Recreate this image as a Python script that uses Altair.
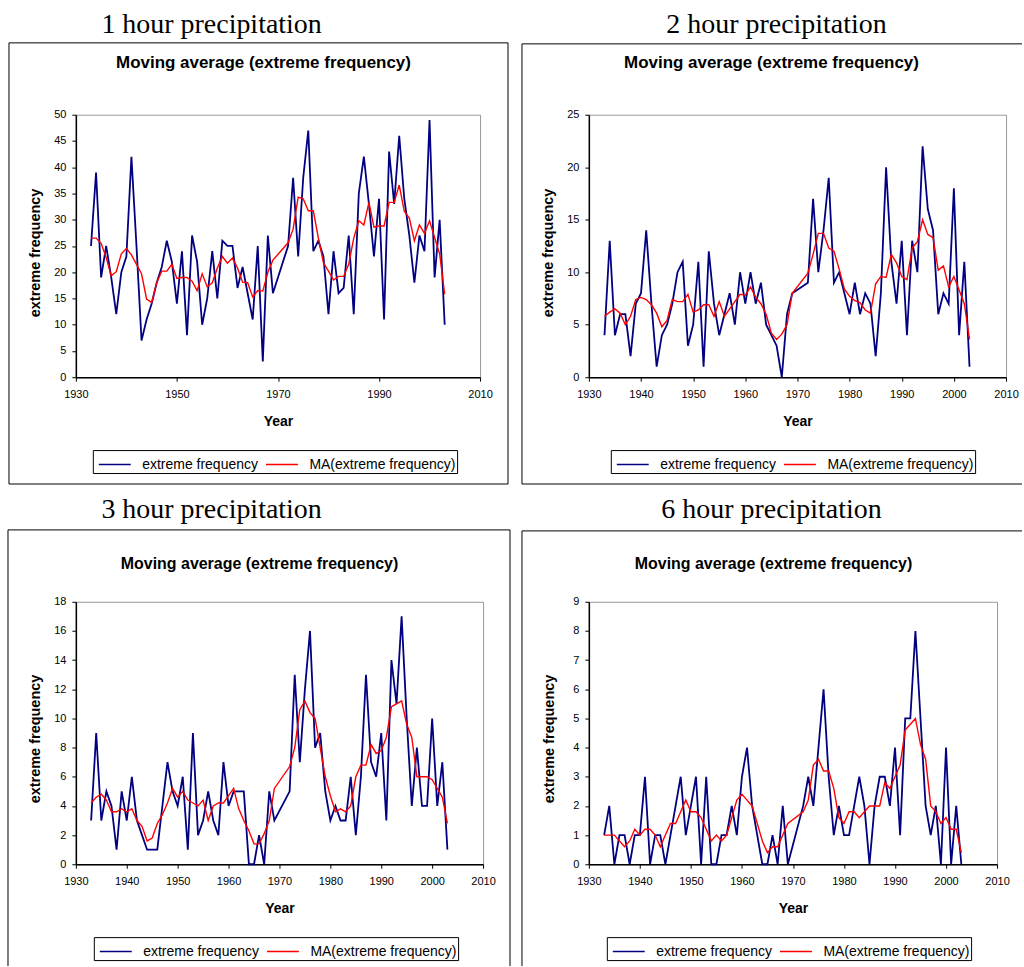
import altair as alt
import pandas as pd

# Station years (1970 and 1971 are not in the record)
YEARS = list(range(1933, 1970)) + list(range(1972, 2004))

SERIES = ["extreme frequency", "MA(extreme frequency)"]
COLORS = ["#000080", "#ff0000"]
HEADINGS = ["1 hour precipitation", "2 hour precipitation",
            "3 hour precipitation", "6 hour precipitation"]
TITLE = "Moving average (extreme frequency)"

# 1 hour
FREQ_1H = [25, 39, 19, 25, 19, 12, 20, 23, 42, 25,
           7, 11, 14, 18, 21, 26, 22, 14, 24, 8,
           27, 22, 10, 15, 24, 15, 26, 25, 25, 17,
           21, 16, 11, 25, 3, 27, 16,
           25, 38, 23, 38, 47, 24, 26, 23, 12, 24,
           16, 17, 27, 12, 35, 42, 33, 23, 34, 11,
           43, 33, 46, 34, 27, 18, 27, 24, 49, 19,
           30, 10]
MA_1H = [26.5, 26.5, 25.5, 22.8, 19.3, 20.1, 23.5, 24.5, 23.3, 21.5,
         19.7, 14.9, 14.2, 18.0, 20.2, 20.2, 21.5, 18.8, 19.0, 19.0,
         18.3, 16.5, 19.7, 17.2, 18.0, 20.8, 23.0, 21.7, 22.7, 20.8,
         18.1, 18.0, 15.3, 16.5, 16.4, 20.0, 22.3,
         25.6, 28.2, 34.3, 34.0, 31.7, 31.7, 26.5, 21.8, 20.2, 18.5,
         19.2, 19.2, 21.5, 26.5, 29.8, 29.0, 33.3, 28.6, 28.8, 28.8,
         33.3, 33.3, 36.6, 31.6, 30.3, 26.0, 29.0, 27.4, 29.8, 26.6,
         23.5, 15.8]

# 2 hour
FREQ_2H = [4, 13, 4, 6, 6, 2, 7, 8, 14, 7,
           1, 4, 5, 7, 10, 11, 3, 5, 11, 1,
           12, 7, 4, 6, 8, 5, 10, 7, 10, 7,
           9, 5, 4, 3, 0, 6, 8,
           9, 17, 10, 14, 19, 9, 10, 8, 6, 9,
           6, 8, 7, 2, 8, 20, 11, 7, 13, 4,
           13, 10, 22, 16, 14, 6, 8, 7, 18, 4,
           11, 1]
MA_2H = [5.8, 6.2, 6.5, 6.1, 5.0, 5.8, 7.4, 7.6, 7.4, 6.9,
         6.1, 4.8, 5.4, 7.4, 7.2, 7.2, 7.9, 6.2, 6.4, 6.9,
         6.9, 5.8, 7.2, 5.8, 6.5, 7.2, 7.9, 7.8, 8.6, 7.6,
         7.0, 6.0, 4.2, 3.6, 4.1, 5.0, 8.0,
         9.9, 11.7, 13.7, 13.7, 12.3, 12.0, 10.3, 8.4, 7.7, 7.3,
         7.1, 6.4, 6.1, 8.9, 9.6, 9.5, 11.7, 10.9, 9.6, 9.3,
         12.3, 12.9, 15.0, 13.6, 13.3, 10.2, 10.6, 8.6, 9.6, 8.3,
         7.0, 3.6]

# 3 hour
FREQ_3H = [3, 9, 3, 5, 4, 1, 5, 3, 6, 3,
           2, 1, 1, 1, 4, 7, 5, 4, 6, 1,
           9, 2, 3, 5, 3, 2, 7, 4, 5, 5,
           5, 0, 0, 2, 0, 5, 3,
           5, 13, 7, 12, 16, 8, 9, 5, 3, 4,
           3, 3, 6, 2, 6, 13, 7, 6, 9, 3,
           14, 11, 17, 10, 4, 8, 4, 4, 10, 4,
           7, 1]
MA_3H = [4.2, 4.6, 4.8, 4.4, 3.6, 3.6, 3.8, 3.6, 3.8, 3.0,
         2.6, 1.6, 1.8, 2.8, 3.4, 4.2, 5.2, 4.6, 5.0, 4.4,
         4.2, 4.0, 4.4, 3.0, 4.0, 4.2, 4.2, 4.7, 5.2, 3.8,
         3.0, 2.3, 1.4, 1.4, 2.1, 3.0, 5.2,
         6.7, 8.0, 10.6, 11.2, 10.4, 10.0, 8.0, 6.0, 4.7, 3.6,
         3.8, 3.6, 4.0, 6.0, 6.8, 6.8, 8.2, 7.6, 7.8, 8.7,
         10.8, 11.0, 11.2, 9.6, 8.7, 6.0, 6.0, 6.0, 5.8, 5.2,
         4.6, 2.8]

# 6 hour
FREQ_6H = [1, 2, 0, 1, 1, 0, 1, 1, 3, 0,
           1, 1, 0, 1, 2, 3, 1, 2, 3, 0,
           3, 0, 0, 1, 1, 2, 1, 3, 4, 2,
           1, 0, 0, 1, 0, 2, 0,
           2, 3, 2, 4, 6, 3, 1, 2, 1, 1,
           2, 3, 2, 0, 2, 3, 3, 2, 4, 1,
           5, 5, 8, 5, 2, 1, 2, 0, 4, 0,
           2, 0]
MA_6H = [1.0, 1.0, 1.0, 0.8, 0.6, 0.8, 1.2, 1.0, 1.2, 1.2,
         1.0, 0.6, 1.0, 1.4, 1.4, 1.8, 2.2, 1.8, 1.8, 1.6,
         1.2, 0.8, 1.0, 0.8, 1.0, 1.6, 2.2, 2.4, 2.2, 2.0,
         1.4, 0.8, 0.4, 0.6, 0.6, 1.0, 1.4,
         1.8, 2.2, 3.4, 3.6, 3.2, 3.2, 2.6, 1.6, 1.4, 1.8,
         1.8, 1.6, 1.8, 2.0, 2.0, 2.0, 2.8, 2.6, 3.0, 3.4,
         4.6, 4.8, 5.0, 4.1, 3.6, 2.0, 1.8, 1.4, 1.6, 1.2,
         1.2, 0.4]

SANS = "Liberation Sans"
SERIF = "Liberation Serif"
PLOT_H = 263


def spot():
    """A one-row source for the decorative layers of a panel."""
    return alt.Chart(alt.Data(values=[{"k": 0}]))


def panel(freq, ma, ymax, ystep, xstep, width, heading, heading_at,
          title_at, title_size, legend_at, ytitle_at, sides, canvas=None):
    table = pd.DataFrame({
        "Year": YEARS + YEARS,
        "value": freq + ma,
        "series": [SERIES[0]] * len(freq) + [SERIES[1]] * len(ma),
    })

    x = alt.X(
        "Year:Q",
        scale=alt.Scale(domain=[1930, 2010], nice=False, zero=False),
        axis=alt.Axis(
            values=list(range(1930, 2011, xstep)), format="d", title="Year",
            titleFont=SANS, titleFontSize=14, titleFontWeight="bold",
            titleColor="black", titleY=48, titleBaseline="alphabetic",
            labelFont=SANS, labelFontSize=11, labelColor="black",
            labelPadding=7, labelFlush=False, labelOverlap=False,
            tickSize=4, tickColor="black", tickWidth=1,
            domainColor="black", domainWidth=1.5, grid=False,
        ),
    )
    y = alt.Y(
        "value:Q",
        scale=alt.Scale(domain=[0, ymax], nice=False),
        axis=alt.Axis(
            values=list(range(0, ymax + 1, ystep)), title="extreme frequency",
            titleFont=SANS, titleFontSize=14.5, titleFontWeight="bold",
            titleColor="black", titleAngle=270, titleX=ytitle_at[0],
            titleY=ytitle_at[1], titleBaseline="alphabetic", titleAlign="center",
            labelFont=SANS, labelFontSize=11, labelColor="black", labelPadding=6,
            tickSize=4, tickColor="black", tickWidth=1,
            domainColor="black", domainWidth=1.5, grid=False,
        ),
    )
    color = alt.Color(
        "series:N",
        scale=alt.Scale(domain=SERIES, range=COLORS),
        legend=alt.Legend(
            title=None, orient="none", legendX=legend_at[0], legendY=legend_at[1],
            direction="horizontal", padding=1.5, strokeColor="black",
            fillColor="white", symbolType="M-1.333,0H1.333", symbolSize=576,
            symbolStrokeWidth=1.5, symbolOffset=7.5,
            labelFont=SANS, labelFontSize=14, labelColor="black",
            labelOffset=14.5, labelLimit=400, columnPadding=3.5,
        ),
    )

    base = alt.Chart(table)
    lines = [
        base.transform_filter(alt.datum.series == name)
        .mark_line(strokeWidth=sw)
        .encode(x=x, y=y, color=color)
        for name, sw in zip(SERIES, [1.8, 1.4])
    ]

    frame = [
        spot().mark_rule(color="black", strokeWidth=1).encode(
            x=alt.value(a), y=alt.value(b), x2=alt.value(c), y2=alt.value(d))
        for a, b, c, d in sides
    ]

    head = spot().mark_text(
        font=SERIF, fontSize=28, color="black", align="center",
        baseline="alphabetic",
    ).encode(x=alt.value(heading_at[0]), y=alt.value(heading_at[1]),
             text=alt.value(heading))

    title = spot().mark_text(
        font=SANS, fontSize=title_size, fontWeight="bold", color="black",
        align="center", baseline="alphabetic",
    ).encode(x=alt.value(title_at[0]), y=alt.value(title_at[1]),
             text=alt.value(TITLE))

    layers = frame + [head, title] + lines
    if canvas is not None:
        # transparent sheet spanning the page, anchors the layout origin
        layers.insert(0, spot().mark_rect(
            fill="white", fillOpacity=0, strokeOpacity=0,
        ).encode(x=alt.value(canvas[0]), y=alt.value(canvas[1]),
                 x2=alt.value(canvas[2]), y2=alt.value(canvas[3])))

    return alt.layer(*layers).properties(width=width, height=PLOT_H)


p1 = panel(
    FREQ_1H, MA_1H, 50, 5, 20, 405, HEADINGS[0],
    heading_at=(136, -81.5), title_at=(188, -46.5), title_size=17,
    legend_at=(17, 336), ytitle_at=(-36, 138),
    sides=[(-67, -72, -67, 370), (-67, -72, 433, -72),
           (433, -72, 433, 370), (-67, 370, 433, 370)],
    canvas=(-75, -113, 949, 854),
)
p2 = panel(
    FREQ_2H, MA_2H, 25, 5, 10, 418, HEADINGS[1],
    heading_at=(188, -81.5), title_at=(183, -46.5), title_size=17,
    legend_at=(22, 336), ytitle_at=(-36, 138),
    sides=[(-67, -71, -67, 370), (-67, -71, 434, -71), (-67, 370, 434, 370)],
)
p3 = panel(
    FREQ_3H, MA_3H, 18, 2, 10, 408, HEADINGS[2],
    heading_at=(136, -84), title_at=(184, -33), title_size=16,
    legend_at=(18, 336), ytitle_at=(-36, 137),
    sides=[(-68, -72, -68, 365), (-68, -72, 435, -72), (435, -72, 435, 365)],
)
p4 = panel(
    FREQ_6H, MA_6H, 9, 1, 10, 409, HEADINGS[3],
    heading_at=(183, -84), title_at=(185, -33), title_size=16,
    legend_at=(18, 336), ytitle_at=(-35, 137),
    sides=[(-67, -71, -67, 365), (-67, -71, 434, -71)],
)

chart = (
    alt.concat(p1, p2, p3, p4, columns=2, bounds="flush", align="each",
               spacing={"row": 225, "column": 106})
    .resolve_scale(color="independent")
    .resolve_legend(color="independent")
    .properties(padding=0, background="white")
    .configure_view(stroke="#9a9a9a", strokeWidth=1)
)

chart.save("out.html", embed_options={"renderer": "svg", "actions": False})
